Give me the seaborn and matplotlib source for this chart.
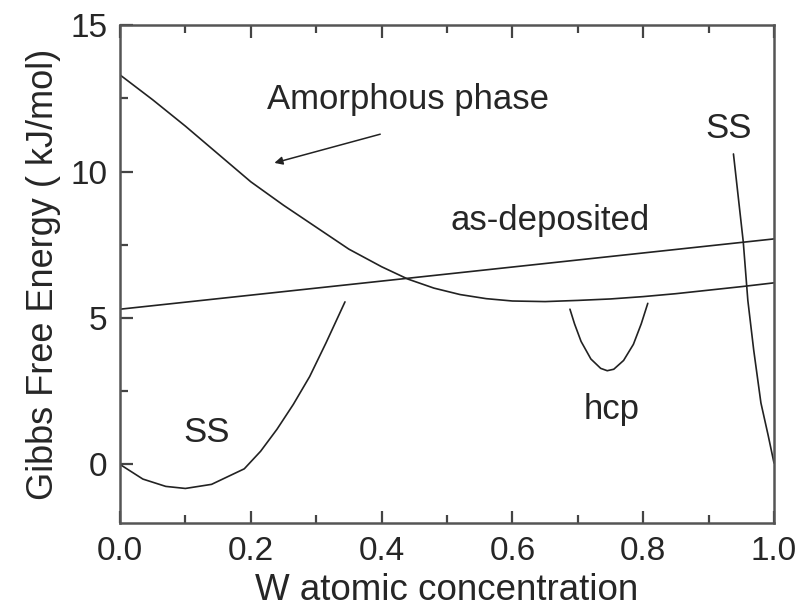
import numpy as np
import pandas as pd
import seaborn as sns
import matplotlib.pyplot as plt
from matplotlib.ticker import MultipleLocator

# values
amorph_x = [0.0, 0.05, 0.1, 0.15, 0.2, 0.25, 0.3, 0.35, 0.4, 0.44, 0.48, 0.52, 0.56,
            0.6, 0.65, 0.7, 0.75, 0.8, 0.85, 0.9, 0.95, 1.0]
amorph_y = [13.3, 12.45, 11.55, 10.6, 9.65, 8.85, 8.1, 7.35, 6.75, 6.33, 6.02, 5.8, 5.66,
            5.58, 5.56, 5.6, 5.65, 5.73, 5.83, 5.95, 6.07, 6.2]

dep_x = [0.0, 1.0]
dep_y = [5.3, 7.7]

ss_left_x = [0.0, 0.035, 0.07, 0.1, 0.14, 0.19, 0.215, 0.24, 0.265, 0.29, 0.315, 0.344]
ss_left_y = [0.0, -0.5, -0.75, -0.82, -0.68, -0.15, 0.45, 1.2, 2.05, 3.0, 4.15, 5.55]

hcp_x = [0.688, 0.695, 0.705, 0.72, 0.735, 0.745, 0.755, 0.77, 0.785, 0.797, 0.807]
hcp_y = [5.3, 4.8, 4.2, 3.6, 3.28, 3.2, 3.25, 3.55, 4.1, 4.8, 5.5]

ss_right_x = [0.938, 0.945, 0.953, 0.96, 0.969, 0.98, 0.991, 1.0]
ss_right_y = [10.6, 9.2, 7.6, 5.6, 3.9, 2.1, 1.0, 0.05]

sns.set_style("ticks")
plt.rcParams['font.family'] = ['Liberation Sans', 'DejaVu Sans']

fig = plt.figure(figsize=(8, 6.12), dpi=100)
ax = fig.add_axes([0.15, 0.1454, 0.8175, 0.8136])

line_kw = dict(color='#222222', linewidth=1.2, ax=ax, sort=False)
for xs, ys in [(amorph_x, amorph_y), (dep_x, dep_y), (ss_left_x, ss_left_y),
               (hcp_x, hcp_y), (ss_right_x, ss_right_y)]:
    sns.lineplot(x=xs, y=ys, **line_kw)

ax.set_xlim(0, 1.0)
ax.set_ylim(-2, 15)
ax.xaxis.set_major_locator(MultipleLocator(0.2))
ax.xaxis.set_minor_locator(MultipleLocator(0.1))
ax.yaxis.set_major_locator(MultipleLocator(5))
ax.yaxis.set_minor_locator(MultipleLocator(2.5))
ax.xaxis.set_major_formatter(plt.FuncFormatter(lambda v, p: f"{v:.1f}"))
ax.tick_params(which='both', direction='in', top=True, right=False,
               bottom=True, left=True, labelsize=24, color='#444444', width=1.6)
ax.tick_params(which='major', length=9, pad=9)
ax.tick_params(which='minor', length=6)
for s in ax.spines.values():
    s.set_linewidth(1.8)
    s.set_color('#555555')

ax.set_xlabel('W atomic concentration', fontsize=26.5, labelpad=5)
ax.set_ylabel('Gibbs Free Energy ( kJ/mol)', fontsize=26, labelpad=7)

ax.text(0.44, 12.45, 'Amorphous phase', fontsize=25, ha='center', va='center')
ax.annotate('', xy=(0.232, 10.27), xytext=(0.402, 11.3),
            arrowprops=dict(arrowstyle='-|>', color='#222222', lw=1.1,
                            mutation_scale=12))
ax.text(0.657, 8.33, 'as-deposited', fontsize=25, ha='center', va='center')
ax.text(0.93, 11.46, 'SS', fontsize=25, ha='center', va='center')
ax.text(0.133, 1.09, 'SS', fontsize=25, ha='center', va='center')
ax.text(0.752, 1.87, 'hcp', fontsize=25, ha='center', va='center')

fig.savefig('out.png', dpi=100)
